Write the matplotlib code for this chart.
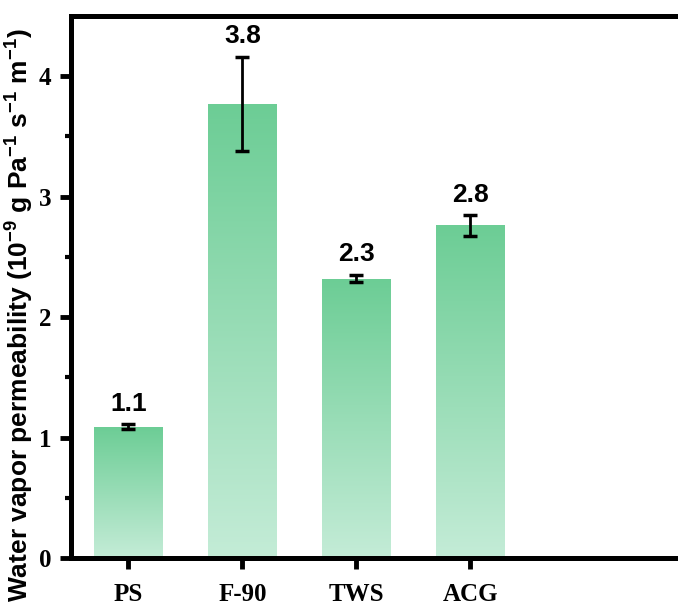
import numpy as np
import matplotlib
matplotlib.use("Agg")
import matplotlib.pyplot as plt
from matplotlib.colors import LinearSegmentedColormap

plt.rcParams["mathtext.default"] = "regular"

# --------------------------------------------------
# DATA
# --------------------------------------------------

samples = ["PS", "F-90", "TWS", "ACG"]
wvp = [1.09, 3.77, 2.32, 2.76]
wvp_err = [0.02, 0.39, 0.03, 0.085]
labels = ["1.1", "3.8", "2.3", "2.8"]

# --------------------------------------------------
# FIGURE
# --------------------------------------------------

fig = plt.figure(figsize=(6.78, 6.06), dpi=100)
ax = fig.add_axes([0.105, 0.079, 0.895, 0.895])

x = np.arange(len(samples))
bars = ax.bar(x, wvp, width=0.6, color="none", edgecolor="none", zorder=2)

# vertical gradient in each bar (darker at top)
cmap = LinearSegmentedColormap.from_list("g", ["#c4ecd7", "#6ccd95"])
grad = np.linspace(0, 1, 256).reshape(-1, 1)
for b in bars:
    x0, y0 = b.get_x(), b.get_y()
    w, h = b.get_width(), b.get_height()
    im = ax.imshow(grad, cmap=cmap, origin="lower", aspect="auto",
                   extent=[x0, x0 + w, y0, y0 + h], zorder=2)
    im.set_clip_path(b)

ax.errorbar(x, wvp, yerr=wvp_err, fmt="none", ecolor="black",
            elinewidth=2, capsize=5, capthick=2.5, zorder=3)

for xi, v, e, t in zip(x, wvp, wvp_err, labels):
    ax.text(xi, v + e + 0.07, t, ha="center", va="bottom",
            fontsize=19, fontweight="bold", family="Liberation Sans")

ax.set_xlim(-0.5, 4.82)
ax.set_ylim(0, 4.5)
ax.set_xticks(x)
ax.set_xticklabels(samples)
ax.set_yticks([0, 1, 2, 3, 4])
ax.set_yticks([0.5, 1.5, 2.5, 3.5], minor=True)

for lab in ax.get_xticklabels() + ax.get_yticklabels():
    lab.set_family("Liberation Serif")
    lab.set_fontweight("bold")
    lab.set_fontsize(18)

ax.tick_params(axis="x", which="major", direction="out", length=8, width=3.5, pad=10)
ax.tick_params(axis="y", which="major", direction="out", length=8, width=3.5, pad=6)
ax.tick_params(axis="y", which="minor", direction="out", length=4, width=3)

for side in ["left", "bottom", "top"]:
    ax.spines[side].set_linewidth(3.6)
ax.spines["right"].set_visible(False)

ax.set_ylabel("Water vapor permeability (10$^{-9}$ g Pa$^{-1}$ s$^{-1}$ m$^{-1}$)",
              fontsize=19, fontweight="bold", family="Liberation Sans")
ax.yaxis.set_label_coords(-0.058, 0.448)

fig.savefig("out.png", dpi=100)
